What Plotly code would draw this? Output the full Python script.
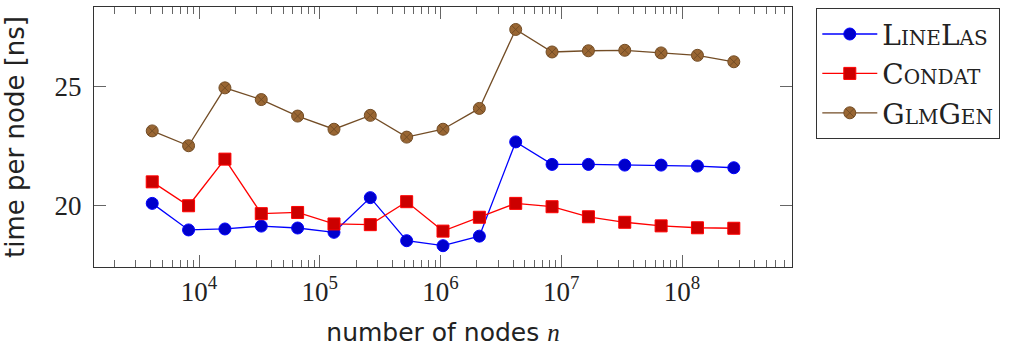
import plotly.graph_objects as go

nodes = [2**k for k in range(12, 29)]
linelas = [20.10, 18.99, 19.03, 19.15, 19.07, 18.89, 20.34, 18.54, 18.33, 18.73,
           22.67, 21.73, 21.73, 21.70, 21.70, 21.66, 21.59]
condat = [21.00, 20.00, 21.95, 19.67, 19.72, 19.24, 19.21, 20.17, 18.94, 19.52,
          20.10, 19.96, 19.54, 19.31, 19.16, 19.08, 19.06]
glmgen = [23.13, 22.51, 24.93, 24.44, 23.75, 23.20, 23.78, 22.87, 23.20, 24.07,
          27.37, 26.43, 26.48, 26.50, 26.39, 26.29, 26.02]

x_tickvals = [1e4, 1e5, 1e6, 1e7, 1e8]
x_ticktext = ["10<sup>4</sup>", "10<sup>5</sup>", "10<sup>6</sup>", "10<sup>7</sup>", "10<sup>8</sup>"]
y_tickvals = [20, 25]

series = [
    ("LineLas", linelas, "#0000FF", "#0000CC", "#0000FF", "circle"),
    ("Condat", condat, "#FF0000", "#CC0000", "#FF0000", "square"),
    ("GlmGen", glmgen, "#734D26", "#996633", "#734D26", "circle-x"),
]

fig = go.Figure()
for i, (name, ys, lc, fc, mlc, sym) in enumerate(series):
    fig.add_trace(go.Scatter(
        x=nodes, y=ys, name=name, mode="lines+markers",
        legendgroup=f"g{i}",
        line=dict(color=lc, width=1.3),
        marker=dict(symbol=sym, size=12, color=fc, line=dict(color=mlc, width=1)),
    ))

axis_common = dict(
    showline=True, linecolor="#333333", linewidth=1.3, mirror="ticks",
    ticks="inside", tickcolor="#666666", tickwidth=1, ticklen=12,
    showgrid=False, zeroline=False, automargin=False,
)

fig.update_xaxes(
    type="log", range=[3.1302, 8.9108],
    tickvals=x_tickvals, ticktext=x_ticktext,
    tickfont=dict(family="Liberation Serif", size=27, color="#222222"),
    ticklabelstandoff=0,
    minor=dict(ticks="inside", ticklen=7, tickcolor="#666666", tickwidth=1, dtick="D1", showgrid=False),
    title=dict(text='number of nodes <span style="font-family:Liberation Serif;font-style:italic">n</span>',
               font=dict(family="DejaVu Sans", size=25, color="#222222"), standoff=17),
    **axis_common,
)
fig.update_yaxes(
    range=[17.44, 28.31], tickvals=y_tickvals,
    tickfont=dict(family="Liberation Serif", size=27, color="#222222"),
    ticklabelstandoff=6,
    title=dict(text="time per node [ns]", font=dict(family="DejaVu Sans", size=26, color="#222222"), standoff=24),
    **axis_common,
)

fig.update_layout(
    width=1030, height=348,
    margin=dict(l=94, r=238, t=7, b=81),
    paper_bgcolor="white", plot_bgcolor="white",
    showlegend=True,
    legend=dict(
        xref="container", yref="container", x=816/1030, y=1-8/348,
        xanchor="left", yanchor="top",
        bordercolor="#333333", borderwidth=1.3, bgcolor="white",
        font=dict(family="DejaVu Serif", size=28, color="#222222", variant="small-caps"),
        itemwidth=55, tracegroupgap=0,
    ),
)

fig.write_html("out.html")
